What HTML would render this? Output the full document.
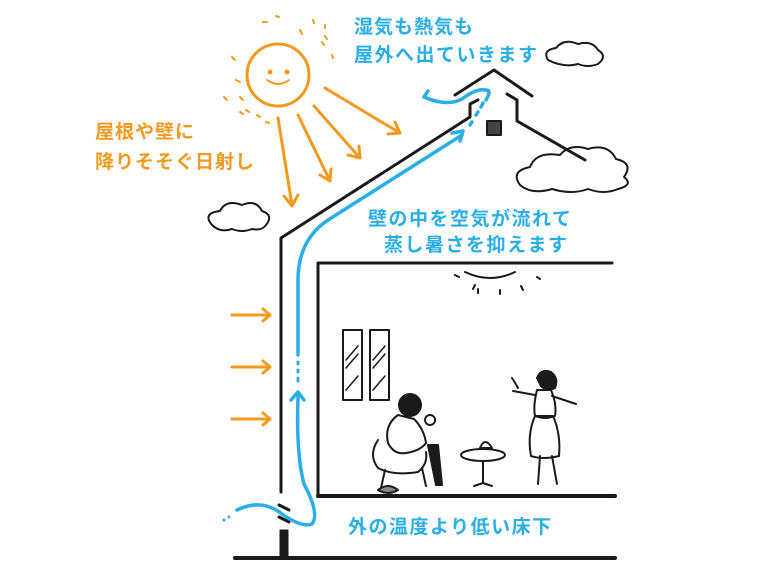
<!DOCTYPE html>
<html><head><meta charset="utf-8"><style>
html,body{margin:0;padding:0;background:#fff;}
svg{display:block}
text{font-family:"Liberation Sans","Noto Sans CJK JP",sans-serif;font-weight:bold;}
</style></head><body>
<svg width="768" height="576" viewBox="0 0 768 576" xmlns="http://www.w3.org/2000/svg">
<g fill="none" stroke="#1a1a1a" stroke-width="3" stroke-linecap="round" stroke-linejoin="round">
<!-- clouds -->
<path d="M212 225 q-10 -12 8 -14 q6 -12 22 -6 q14 -6 20 6 q12 4 4 14 q-4 6 -14 4 q-10 4 -20 0 q-12 4 -20 -4z" stroke-width="2"/>
<path d="M548 60 q-6 -10 8 -12 q8 -10 22 -4 q14 -4 20 6 q10 6 0 14 q-10 4 -20 0 q-14 4 -30 -4z" stroke-width="2"/>
<path d="M520 185 q-10 -14 10 -18 q6 -16 30 -12 q10 -12 28 -6 q20 -6 28 10 q18 4 8 18 q10 8 -6 12 q-14 6 -30 0 q-16 6 -36 0 q-20 6 -32 -4z" stroke-width="2"/>
<!-- roof -->
<path d="M281 492 V238 L470 117 V104 L478 100"/>
<path d="M455 95 L494 70 L532 96"/>
<path d="M507 94 L517 100 V121 L585 160"/>
<rect x="487" y="121" width="14" height="14" fill="#444" stroke-width="2"/>
<!-- inner -->
<path d="M318 496 V263 H612"/>
<path d="M318 496 H615" stroke-width="4"/>
<path d="M235 558 H615" stroke-width="4"/>
<rect x="280" y="530" width="8" height="27" fill="#1a1a1a" stroke-width="1"/>
<path d="M279 505 l10 5 M279 517 l10 5" stroke-width="3"/>
<!-- lamp -->
<path d="M465 272 q25 12 50 0" stroke-width="2"/>
<path d="M455 275 l4 2 M478 289 v4 M500 290 v4 M521 286 l2 4 M537 277 l3 2 M475 285 l-2 4" stroke-width="2"/>
<!-- windows -->
<rect x="343" y="330" width="19" height="70" stroke-width="2"/>
<rect x="370" y="330" width="19" height="70" stroke-width="2"/>
<path d="M346 360 l12 -14 M346 368 l12 -14 M346 390 l12 -14 M373 360 l12 -14 M373 368 l12 -14 M373 390 l12 -14" stroke-width="1.5"/>
<!-- man -->
<g stroke-width="2">
<circle cx="410" cy="405" r="11" fill="#1a1a1a"/>
<path d="M398 415 q-14 10 -10 28 q6 12 18 10 q14 -2 20 -10 q-2 -14 -12 -24 z"/>
<path d="M378 440 q-10 15 0 28 q15 8 40 4 q10 -8 8 -20"/>
<path d="M385 470 l-4 18 M422 468 l4 18"/>
<path d="M428 445 l8 40 l6 0 l-4 -40 z" fill="#1a1a1a"/>
<path d="M378 490 q10 -8 20 0 q-10 6 -20 0z" fill="#888"/>
<path d="M430 415 a5 5 0 1 0 0.1 0z"/>
<!-- table -->
<ellipse cx="483" cy="455" rx="22" ry="6"/>
<path d="M483 461 v22 M474 486 l9 -3 l9 3"/>
<path d="M480 448 q5 -12 12 0 z"/>
<!-- woman -->
<path d="M537 378 q4 -10 14 -6 q8 6 4 16 q-8 4 -14 -2z" fill="#1a1a1a"/>
<path d="M537 390 q-4 16 -2 26 q10 4 20 0 q2 -12 -4 -26z"/>
<path d="M535 395 l-22 -4 M552 396 l24 8"/>
<path d="M535 416 q-8 18 -4 40 q12 4 28 0 q2 -22 -6 -40z"/>
<path d="M540 456 l-2 28 M552 456 l5 28"/>
<path d="M512 378 q4 6 6 10"/>
</g>
</g>
<!-- sun -->
<g fill="none" stroke="#f39a1e" stroke-width="3" stroke-linecap="round" stroke-linejoin="round">
<circle cx="278" cy="75" r="31"/>
<path d="M278 118 L292 205 M284 196 l8 10 l6 -11"/>
<path d="M298 115 L330 181 M320 175 l10 6 l1 -12"/>
<path d="M314 106 L360 158 M348 155 l12 3 l-1 -12"/>
<path d="M325 88 L400 133 M388 134 l12 -1 l-5 -11"/>
<path d="M232 315 H270 M263 309 l7 6 l-7 6"/>
<path d="M232 367 H270 M263 361 l7 6 l-7 6"/>
<path d="M232 419 H270 M263 413 l7 6 l-7 6"/>
<path d="M267 80 q11 8 22 0" stroke-width="2"/>
<path d="M232 57 l3 3 M236 80 l4 2 M240 97 l3 3 M246 110 l3 2 M300 30 l2 4 M313 20 l1 3 M325 25 l0 3 M322 42 l2 3 M332 55 l1 3 M325 36 l2 3 M263 22 l4 0 M276 16 l3 1 M240 112 l3 2 M224 97 l3 3 M257 115 l3 2 M266 122 l3 1" stroke-width="2"/>
</g>
<circle cx="270" cy="72" r="2.5" fill="#f39a1e"/><circle cx="287" cy="72" r="2.5" fill="#f39a1e"/>
<!-- blue air -->
<g fill="none" stroke="#29aee6" stroke-width="3.5" stroke-linecap="round" stroke-linejoin="round">
<path d="M237 510 q25 -12 45 4 q20 14 30 10 q8 -10 -8 -40 q-8 -30 -6 -88"/>
<path d="M291 400 l7 -8 l6 8"/>
<path d="M298 378 v3 M298 370 v2 M298 362 v2" stroke-width="3"/>
<path d="M298 355 V280 q0 -40 30 -60 L462 135"/>
<path d="M452 133 l11 -2 l-3 10"/>
<path d="M470 125 l2 -3 M476 115 l2 -3 M481 107 l2 -4"/>
<path d="M486 100 q6 -10 0 -10 q-10 -2 -24 9 q-15 8 -38 -2"/>
<path d="M428 91 l-4 6 l8 3"/>
<path d="M229 517 l0 0 M224 520 l0 0" stroke-width="3"/>
</g>
<!-- text -->
<g font-size="19">
<text x="354" y="33" fill="#29aee6" letter-spacing="1">湿気も熱気も</text>
<text x="354" y="61" fill="#29aee6" letter-spacing="1.5">屋外へ出ていきます</text>
<text x="95" y="138" fill="#f39a1e" letter-spacing="1">屋根や壁に</text>
<text x="95" y="168" fill="#f39a1e" letter-spacing="1">降りそそぐ日射し</text>
<text x="368" y="225" fill="#29aee6" letter-spacing="1.5">壁の中を空気が流れて</text>
<text x="384" y="251" fill="#29aee6" letter-spacing="1.5">蒸し暑さを抑えます</text>
<text x="348" y="533" fill="#29aee6" letter-spacing="1.5">外の温度より低い床下</text>
</g>
</svg>
</body></html>
